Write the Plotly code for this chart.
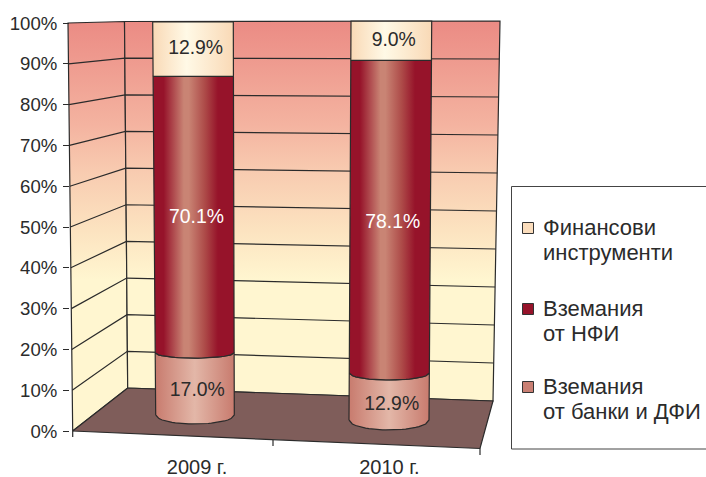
import plotly.graph_objects as go

categories = ["2009 г.", "2010 г."]
banks = [17.0, 12.9]
nfi = [70.1, 78.1]
instruments = [12.9, 9.0]
tick_values = [0, 10, 20, 30, 40, 50, 60, 70, 80, 90, 100]
tick_labels = ["0%", "10%", "20%", "30%", "40%", "50%", "60%", "70%", "80%", "90%", "100%"]
series_names = ["Финансови инструменти", "Вземания от НФИ", "Вземания от банки и ДФИ"]
legend_lines = [["Финансови", "инструменти"], ["Вземания", "от НФИ"], ["Вземания", "от банки и ДФИ"]]
legend_colors = ["#FBDDBC", "#96132A", "#C97F73"]

W, H, PLOT_H = 706, 477, 455
INK = "#2b2b2b"
FONT = "Liberation Sans"
FS = 18.6

# axis scales: y axis is percent along the front-left edge, x axis is category index
Y_PER_PCT, Y_ZERO = 4.08, 431.0
X_PER_CAT, X_ZERO = 197.5, 193.5
x_range = [(0 - X_ZERO) / X_PER_CAT, (W - X_ZERO) / X_PER_CAT]
y_range = [(Y_ZERO - PLOT_H) / Y_PER_PCT, (Y_ZERO - 0) / Y_PER_PCT]
ax = lambda px: (px - X_ZERO) / X_PER_CAT
ay = lambda py: (Y_ZERO - py) / Y_PER_PCT


# 3D projection of the chart box, in value terms
def front_left(v):
    return 72.7 - 0.047 * v, 431 - 4.08 * v
def back_left(v):
    return 127.7 - 0.032 * v, 388 - 3.665 * v
def back_right(v):
    return 493 + 0.07 * v, 401 - 3.80 * v


def pts(seq):
    return [ax(p[0]) for p in seq], [ay(p[1]) for p in seq]


fig = go.Figure()
wall_scale = [[0, "#FFF6D0"], [0.19, "#FCE3C0"], [0.42, "#F8CBB0"], [0.6, "#F4B3A0"], [1, "#EB8B84"]]
wall_grad = dict(type="vertical", start=ay(280), stop=ay(21), colorscale=wall_scale)

for a, b in ((front_left, back_left), (back_left, back_right)):
    x, y = pts([a(0), a(100), b(100), b(0), a(0)])
    fig.add_trace(go.Scatter(x=x, y=y, mode="lines", fill="toself", fillgradient=wall_grad,
                             line=dict(color=INK, width=1.2), showlegend=False, hoverinfo="skip"))

# floor
front_right = (480, 448.5)
x, y = pts([front_left(0), back_left(0), back_right(0), front_right, front_left(0)])
fig.add_trace(go.Scatter(x=x, y=y, mode="lines", fill="toself", fillcolor="#7F5D5A",
                         line=dict(color=INK, width=1.2), showlegend=False, hoverinfo="skip"))

# gridlines and category ticks
gx, gy = [], []
for v in tick_values[1:-1]:
    x, y = pts([front_left(v), back_left(v), back_right(v)])
    gx += x + [None]
    gy += y + [None]
for p, q in ((front_left(0), (72.7, 437)), ((273, 440), (273, 446)), (front_right, (480, 455))):
    x, y = pts([p, q])
    gx += x + [None]
    gy += y + [None]
fig.add_trace(go.Scatter(x=gx, y=gy, mode="lines", line=dict(color=INK, width=1.2),
                         showlegend=False, hoverinfo="skip"))


# bars: cylinders with a shallow perspective curve on lower boundaries
bar_geo = [
    dict(lb=155.7, lt=152.7, rb=234.3, rt=233.3, y0=415, s=3.61, q=0.0032, sag=9.0),
    dict(lb=349.0, lt=351.0, rb=429.0, rt=431.7, y0=420, s=3.59, q=0.00398, sag=10.0),
]
band_scales = [
    [[0, "#C87B6E"], [0.5, "#E3B7A8"], [1, "#C87B6E"]],
    [[0, "#96132A"], [0.13, "#96132A"], [0.38, "#C98474"], [0.44, "#C98474"], [0.64, "#AD4A48"],
     [0.8, "#96132A"], [1, "#96132A"]],
    [[0, "#F9D9B6"], [0.42, "#FFF9E6"], [1, "#F9D9B6"]],
]
label_colors = [INK, "#FFFFFF", INK]


def edge(g, v):
    t = v / 100
    y = g["y0"] - g["s"] * v - g["q"] * v * v
    return g["lb"] + (g["lt"] - g["lb"]) * t, g["rb"] + (g["rt"] - g["rb"]) * t, y


def sag(g, v):
    return max(0.0, g["sag"] * (1 - v / 42))


def arc(g, v, n=24):
    l, r, y = edge(g, v)
    out = []
    for i in range(n + 1):
        u = -1 + 2 * i / n
        out.append(((l + r) / 2 + u * (r - l) / 2, y + sag(g, v) * (1 - u * u) ** 0.5))
    return out


lab_x, lab_y, lab_t, lab_c = [], [], [], []
for g, vals in zip(bar_geo, zip(banks, nfi, instruments)):
    base = 0.0
    for val, scale, col in zip(vals, band_scales, label_colors):
        top = base + val
        low = arc(g, base)
        high = arc(g, top)
        poly = low + high[::-1] + low[:1]
        x, y = pts(poly)
        fig.add_trace(go.Scatter(x=x, y=y, mode="lines", fill="toself",
                                 fillgradient=dict(type="horizontal", colorscale=scale),
                                 line=dict(color=INK, width=1.2), showlegend=False, hoverinfo="skip"))
        mid = (base + top) / 2
        l, r, ym = edge(g, mid)
        lx, ly = pts([((l + r) / 2 + 2.5, ym + sag(g, mid))])
        lab_x += lx
        lab_y += ly
        lab_t.append(f"{val:.1f}%")
        lab_c.append(col)
        base = top

fig.add_trace(go.Scatter(x=lab_x, y=lab_y, mode="text", text=lab_t,
                         textfont=dict(family=FONT, size=19.4, color=lab_c),
                         textposition="middle center", showlegend=False, hoverinfo="skip"))

# legend: swatch level with the first line of each two-line entry
swatch_y = [228, 309, 387]
line_y = [[227, 252], [308, 333], [386, 411]]
for name, col, sy in zip(series_names, legend_colors, swatch_y):
    x, y = pts([(528, sy)])
    fig.add_trace(go.Scatter(x=x, y=y, mode="markers", name=name, showlegend=False, hoverinfo="name",
                             marker=dict(symbol="square", size=11, color=col,
                                         line=dict(color="#333333", width=1))))
annotations = []
for lines, ys in zip(legend_lines, line_y):
    for text, py in zip(lines, ys):
        annotations.append(dict(text=text, xref="paper", yref="paper", x=540.5 / W, y=1 - py / PLOT_H,
                                xanchor="left", yanchor="middle", showarrow=False,
                                font=dict(family=FONT, size=22, color=INK)))

fig.update_layout(
    width=W, height=H, margin=dict(l=0, r=0, t=0, b=H - PLOT_H, autoexpand=False),
    paper_bgcolor="white", plot_bgcolor="rgba(0,0,0,0)",
    font=dict(family=FONT, size=FS, color=INK),
    xaxis=dict(range=x_range, tickmode="array", tickvals=[0.018, 0.992], ticktext=categories,
               showgrid=False, zeroline=False, showline=False, ticks="", ticklen=0,
               ticklabelstandoff=-2, tickfont=dict(size=20, color=INK)),
    yaxis=dict(range=y_range, tickmode="array", tickvals=tick_values, ticktext=tick_labels,
               anchor="free", position=69 / W, side="left", ticklabelstandoff=2,
               showgrid=False, zeroline=False, showline=False, ticks="outside", ticklen=6,
               tickcolor=INK, tickwidth=1.2, tickfont=dict(size=FS, color=INK)),
    showlegend=False,
    annotations=annotations,
    shapes=[dict(type="rect", xref="paper", yref="paper", x0=511.5 / W, x1=1.02,
                 y0=1 - 449 / PLOT_H, y1=1 - 186.5 / PLOT_H,
                 line=dict(color="#444444", width=1), fillcolor="white", layer="below")],
)
fig.write_html("out.html", config={"displayModeBar": False},
               post_script="document.body.style.margin='0';document.body.style.overflow='hidden';")
